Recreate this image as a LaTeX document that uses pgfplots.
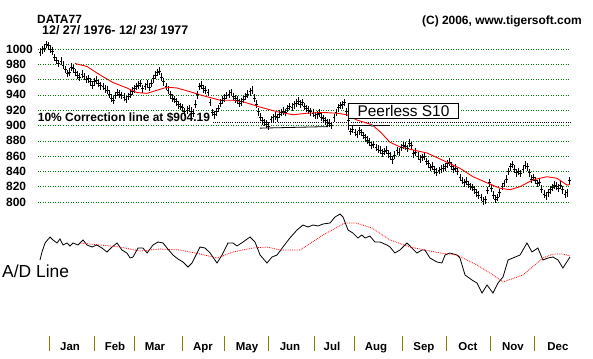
\documentclass[border=0pt]{standalone}
\usepackage{pgfplots}
\pgfplotsset{compat=1.18}
\usepackage{pgfplotstable}
\usepackage{fontspec}
\setmainfont{Liberation Sans}
\newcommand\fs[1]{\fontsize{#1}{#1}\selectfont}
\definecolor{gridgreen}{RGB}{0,128,0}
\definecolor{monthtick}{RGB}{128,128,0}

\pgfplotstableread{
x y
0 996
1 999
2 1001
3 1006
4 1004
5 1000
6 997
7 989
8 985
9 981
10 984
11 979
12 973
13 968
14 970
15 976
16 974
17 969
18 966
19 963
20 967
21 964
22 960
23 961
24 957
25 953
26 957
27 959
28 955
29 952
30 951
31 948
32 946
33 941
34 936
35 933
36 939
37 943
38 941
39 939
40 937
41 934
42 938
43 941
44 945
45 948
46 951
47 953
48 955
49 948
50 951
51 954
52 950
53 955
54 961
55 966
56 969
57 971
58 963
59 957
60 951
61 946
62 940
63 936
64 934
65 931
66 927
67 925
68 923
69 918
70 920
71 922
72 919
73 916
74 928
75 940
76 951
77 953
78 948
79 946
80 943
81 930
82 917
83 914
84 918
85 922
86 929
87 933
88 936
89 939
90 941
91 943
92 938
93 935
94 933
95 929
96 931
97 934
98 938
99 941
100 944
101 946
102 936
103 928
104 918
105 911
106 906
107 904
108 902
109 899
110 908
111 910
112 912
113 910
114 915
115 917
116 919
117 917
118 922
119 925
120 924
121 927
122 929
123 932
124 928
125 930
126 925
127 922
128 920
129 918
130 916
131 913
132 914
133 916
134 911
135 909
136 906
137 904
138 903
139 900
140 910
141 917
142 923
143 926
144 927
145 930
146 918
147 906
148 892
149 895
150 891
151 888
152 893
153 891
154 887
155 884
156 881
157 878
158 874
159 875
160 871
161 869
162 868
163 864
164 866
165 868
166 863
167 860
168 855
169 861
170 867
171 865
172 871
173 874
174 873
175 870
176 877
177 874
178 863
179 865
180 860
181 856
182 858
183 860
184 853
185 850
186 845
187 847
188 842
189 839
190 841
191 843
192 844
193 846
194 850
195 852
196 847
197 843
198 844
199 840
200 832
201 828
202 825
203 827
204 823
205 820
206 819
207 816
208 812
209 809
210 806
211 801
212 803
213 815
214 825
215 818
216 809
217 804
218 806
219 812
220 820
221 824
222 830
223 840
224 846
225 849
226 843
227 838
228 840
229 837
230 843
231 848
232 846
233 838
234 830
235 832
236 828
237 824
238 826
239 817
240 810
241 808
242 812
243 816
244 819
245 822
246 821
247 818
248 822
249 816
250 810
251 812
252 828
}\pricedata

\pgfplotstableread{
x y
16.7 981
22.4 977
28.6 966
34.8 956
41.4 949
46.2 943
51 942
55.7 946
60.5 950
65.2 949
72.9 943
76.2 940
85.7 933
91.9 933
96.7 931
104.8 924
112.9 918
120.5 914
127.1 916
134.8 917
141.4 916
146.2 914
151 907
158.1 901
161.9 892
166.7 878
171.4 872
177.6 868
184.3 864
193.8 852
200 844
206.2 833
212.9 825
219 818
223.8 816
228.6 820
234.8 829
241.4 833
246.2 831
251 822
252.4 823
}\pricema

\pgfplotstableread{
x y
0 40
0.95 48
2.4 57
4.8 63
6.2 60
8.1 57
9.5 61
11 55
12.9 57
14.3 54
15.7 57
18.1 55
20.5 60
22.4 55
24.8 53
27.1 55
29.5 52
31.9 48
34.3 53
36.7 57
39 50
41.4 47
42.9 42
44.3 43
46.7 52
49 52
51 47
53.8 55
56.2 58
58.6 57
60.5 52
63.3 45
65.7 41
68.1 38
70.5 33
72.4 37
74.8 47
76.2 53
78.6 52
81 47
84.3 37
86.7 45
89.5 57
91.9 57
93.8 54
96.7 58
100 63
102.4 58
104.8 45
108.1 37
110.5 43
112.9 45
115.7 53
119 62
122.4 70
125.2 75
127.6 73
130 75
132.4 74
134.8 76
138.1 77
140.5 83
142.9 86
144.3 83
146.7 70
149 67
151.4 62
153.3 65
154.8 62
157.1 64
159.5 58
161.9 58
165.2 55
166.7 53
169 47
171.4 50
174.8 57
177.1 52
179.5 47
181.9 50
183.3 50
185.7 42
189 38
191.4 37
192.9 45
195.2 47
198.6 45
200 42
202.4 25
205.7 20
208.1 17
210.5 7
212.9 15
215.7 7
218.1 17
220.5 23
222.9 40
225.2 42
228.6 45
231.9 57
234.3 48
237.1 52
239.5 40
241.9 42
244.3 43
246.7 40
249 32
252.4 43
}\addata

\pgfplotstableread{
x y
19 57
28.6 55
38.1 53
47.6 49
57.1 51
66.7 50
76.2 46
84.3 42
91.9 48
101.4 52
108.1 53
114.3 50
123.8 50
134.8 65
145.2 77
150.5 77
158.1 72
166.7 60
176.2 53
190.5 47
198.6 45
208.1 35
215.7 25
220.5 18
230 25
239.5 42
244.3 46
249 46
252.4 44
}\adma

\begin{document}
\begin{tikzpicture}
\useasboundingbox (0,0) rectangle (593bp,359bp);

% ---------- price panel ----------
\begin{axis}[
  at={(38bp,153.2bp)}, anchor=south west,
  scale only axis, width=532bp, height=164.5bp,
  xmin=-0.95, xmax=252.4, ymin=795, ymax=1010,
  axis line style={draw=none},
  xtick=\empty,
  ytick={800,820,...,1000},
  yticklabels={800,820,840,860,880,900,920,940,960,980,1000},
  major tick length=0pt,
  ymajorgrids,
  grid style={gridgreen, line width=0.5bp, dash pattern=on 0.5bp off 2bp},
  yticklabel style={font=\bfseries\fs{12}, anchor=west, inner sep=0pt, xshift=-32bp},
  clip=false]
  \addplot[black, line width=0.55bp, dash pattern=on 0.55bp off 1.6bp]
    coordinates {(82.4,904.19) (252.4,904.19)};
  \addplot[only marks, black, mark=-, mark size=1.4bp,
    mark options={line width=0.8bp},
    error bars/.cd, y dir=both, y fixed=5, error mark=none,
    error bar style={black, line width=0.8bp}] table {\pricedata};
  \addplot[red, line width=0.9bp, no marks] table {\pricema};
  \addplot[black, line width=0.8bp, no marks]
    coordinates {(104.8,896.5) (137.1,898.5)};
  \addplot[black, line width=0.8bp, no marks]
    coordinates {(146.7,899.6) (166.7,899.6)};
  \addplot[only marks, mark=*, mark size=1bp, color=cyan!80!black]
    coordinates {(158.1,899.5)};
\end{axis}

% ---------- A/D panel ----------
\begin{axis}[
  at={(38bp,59bp)}, anchor=south west,
  scale only axis, width=532bp, height=90bp,
  xmin=-0.95, xmax=252.4, ymin=0, ymax=90,
  hide axis, clip=false]
  \addplot[black, line width=0.8bp, no marks] table {\addata};
  \addplot[red, line width=0.8bp, densely dotted, no marks] table {\adma};
\end{axis}

% ---------- month axis ----------
\begin{axis}[
  at={(38bp,8bp)}, anchor=south west,
  scale only axis, width=532bp, height=15bp,
  xmin=-0.95, xmax=252.4, ymin=0, ymax=1,
  axis line style={draw=none},
  ytick=\empty,
  xtick={4.29,26.19,45.24,68.1,88.1,109.05,130.95,150,172.86,193.81,214.76,235.71},
  xticklabels={},
  xtick pos=bottom, xtick align=inside,
  major tick length=15bp,
  tick style={draw=monthtick, line width=1bp},
  extra x ticks={14.29,35.71,54.76,77.62,98.57,119.05,139.05,160,182.86,203.81,225.24,246.67},
  extra x tick labels={Jan,Feb,Mar,Apr,May,Jun,Jul,Aug,Sep,Oct,Nov,Dec},
  extra x tick style={major tick length=0pt, tick style={draw=none}},
  xticklabel style={font=\bfseries\fs{11.5}, anchor=base, inner sep=0pt, yshift=1bp}]
  \addplot[draw=none] coordinates {(0,0.5)};
\end{axis}

% ---------- texts ----------
\node[anchor=base west, inner sep=0pt, font=\bfseries\fs{12}] at (37bp,335bp) {DATA77};
\node[anchor=base west, inner sep=0pt, font=\bfseries\fs{12.5}] at (42bp,324bp) {12/ 27/ 1976- 12/ 23/ 1977};
\node[anchor=base east, inner sep=0pt, font=\bfseries\fs{12}] at (582bp,334.5bp) {(C) 2006, www.tigersoft.com};
\node[anchor=base west, inner sep=0pt, font=\fs{17.5}] at (2bp,81bp) {A/D Line};
\node[anchor=base west, inner sep=0pt, font=\bfseries\fs{12}] at (37.7bp,237.5bp) {10\% Correction line at \$904.19};
\draw[line width=0.8bp] (348bp,241bp) -- (348bp,229bp);
\node[draw, fill=white, line width=1bp, inner sep=0pt, minimum width=110bp, minimum height=15bp, anchor=north west, font=\fs{15.5}] at (348bp,256bp) {Peerless S10};
\end{tikzpicture}
\end{document}
